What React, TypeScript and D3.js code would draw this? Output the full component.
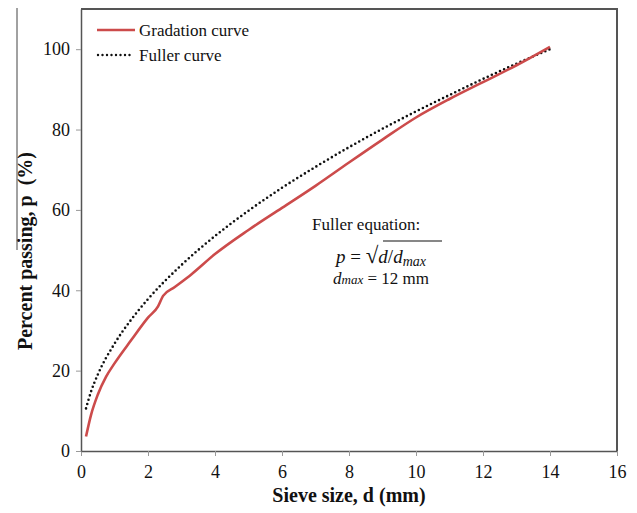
import React, { useEffect, useRef } from "react";
import * as d3 from "d3";

// sieve sizes (mm) and percent passing
const gradSizes = [0.15, 0.3, 0.5, 0.75, 1.0, 1.5, 2.0, 2.3, 2.45, 2.8, 3.3, 4, 5, 6, 7, 8, 9, 10, 11, 12, 13, 14];
const gradPassing = [3.6, 9, 14, 18.5, 21.8, 27.6, 33.2, 36, 38.6, 40.8, 44, 49, 55, 60.5, 66, 71.8, 77.5, 83, 87.6, 91.8, 96, 100.6];

const fullerSizes = [0.15, 0.3, 0.5, 1, 1.5, 2, 3, 4, 5, 6, 7, 8, 9, 10, 11, 12, 13, 14];
const fullerPassing = [10.6, 14.8, 19, 26.7, 32.7, 37.8, 46.3, 53.5, 59.8, 65.5, 70.7, 75.6, 80.2, 84.5, 88.6, 92.6, 96.4, 100];

const xTicks = [0, 2, 4, 6, 8, 10, 12, 14, 16];
const yTicks = [0, 20, 40, 60, 80, 100];

const FONT = "Liberation Serif";

const App = () => {
  const ref = useRef<SVGSVGElement | null>(null);

  useEffect(() => {
    const svg = d3.select(ref.current);
    svg.selectAll("*").remove();

    const left = 81, right = 617, top = 9, bottom = 451;
    const x = d3.scaleLinear().domain([0, 16]).range([left, right]);
    const y = d3.scaleLinear().domain([0, 110]).range([bottom, top]);
    const axisColor = "#555";

    // frame (top + right)
    svg.append("path")
      .attr("d", `M${left},${top}H${right}V${bottom}`)
      .attr("fill", "none")
      .attr("stroke", axisColor)
      .attr("stroke-width", 2);

    // x axis
    const gx = svg.append("g")
      .attr("transform", `translate(0,${bottom})`)
      .call(d3.axisBottom(x).tickValues(xTicks).tickSize(5).tickSizeOuter(0).tickPadding(9))
      .attr("font-family", FONT)
      .attr("font-size", 18);
    gx.select(".domain").attr("stroke", axisColor).attr("stroke-width", 1.5);
    gx.selectAll(".tick line").attr("stroke", "#999");
    gx.selectAll("text").attr("fill", "#111");

    // y axis
    const gy = svg.append("g")
      .attr("transform", `translate(${left},0)`)
      .call(d3.axisLeft(y).tickValues(yTicks).tickSize(5).tickSizeOuter(0).tickPadding(6))
      .attr("font-family", FONT)
      .attr("font-size", 18);
    gy.select(".domain").attr("stroke", axisColor).attr("stroke-width", 1.5);
    gy.selectAll(".tick line").attr("stroke", "#999");
    gy.selectAll("text").attr("fill", "#111");

    // axis titles
    svg.append("text")
      .attr("x", (left + right) / 2)
      .attr("y", 502)
      .attr("text-anchor", "middle")
      .attr("font-weight", "bold")
      .attr("font-size", 20)
      .attr("fill", "#111")
      .text("Sieve size, d (mm)");

    svg.append("text")
      .attr("transform", "translate(32,251) rotate(-90)")
      .attr("text-anchor", "middle")
      .attr("font-weight", "bold")
      .attr("font-size", 20)
      .attr("fill", "#111")
      .attr("xml:space", "preserve")
      .text("Percent passing, p  (%)");

    // stray line left of the y title
    svg.append("line")
      .attr("x1", 17).attr("x2", 17).attr("y1", 8).attr("y2", 250)
      .attr("stroke", "#444").attr("stroke-width", 1);

    // curves
    const grad = gradSizes.map((d, i) => [d, gradPassing[i]] as [number, number]);
    const fuller = fullerSizes.map((d, i) => [d, fullerPassing[i]] as [number, number]);
    const line = d3.line<[number, number]>()
      .x((d) => x(d[0]))
      .y((d) => y(d[1]))
      .curve(d3.curveMonotoneX);

    svg.append("path")
      .attr("d", line(fuller))
      .attr("fill", "none")
      .attr("stroke", "#111")
      .attr("stroke-width", 2.6)
      .attr("stroke-linecap", "round")
      .attr("stroke-dasharray", "0,4.5");

    svg.append("path")
      .attr("d", line(grad))
      .attr("fill", "none")
      .attr("stroke", "#cc4b4b")
      .attr("stroke-width", 2.6);

    // legend
    const lg = svg.append("g");
    lg.append("line")
      .attr("x1", 97).attr("x2", 135).attr("y1", 30).attr("y2", 30)
      .attr("stroke", "#cc4b4b").attr("stroke-width", 2.6);
    lg.append("text")
      .attr("x", 139).attr("y", 36)
      .attr("font-size", 17).attr("fill", "#111")
      .text("Gradation curve");
    lg.append("line")
      .attr("x1", 98).attr("x2", 134).attr("y1", 55).attr("y2", 55)
      .attr("stroke", "#111").attr("stroke-width", 2.4)
      .attr("stroke-linecap", "round").attr("stroke-dasharray", "0,4.5");
    lg.append("text")
      .attr("x", 139).attr("y", 61)
      .attr("font-size", 17).attr("fill", "#111")
      .text("Fuller curve");

    // equation annotation
    const eq = svg.append("g").attr("fill", "#111");
    eq.append("text")
      .attr("x", 312).attr("y", 230)
      .attr("font-size", 17)
      .text("Fuller equation:");
    const e2 = eq.append("text")
      .attr("x", 336).attr("y", 263)
      .attr("font-size", 19);
    e2.append("tspan").attr("font-style", "italic").text("p");
    e2.append("tspan").text(" = ");
    e2.append("tspan").attr("font-size", 23).text("\u221A");
    e2.append("tspan").attr("font-style", "italic").text("d");
    e2.append("tspan").text("/");
    e2.append("tspan").attr("font-style", "italic").text("d");
    e2.append("tspan").attr("font-style", "italic").attr("font-size", 14).attr("dy", 3).text("max");
    eq.append("line")
      .attr("x1", 383).attr("x2", 442).attr("y1", 241).attr("y2", 241)
      .attr("stroke", "#111").attr("stroke-width", 1.2);
    const e3 = eq.append("text")
      .attr("x", 333).attr("y", 284)
      .attr("font-size", 17);
    e3.append("tspan").attr("font-style", "italic").text("d");
    e3.append("tspan").attr("font-style", "italic").attr("font-size", 13).text("max");
    e3.append("tspan").text(" = 12 mm");

    return () => {
      d3.select(ref.current).selectAll("*").remove();
    };
  }, []);

  return (
    <svg
      ref={ref}
      width={637}
      height={513}
      fontFamily={FONT}
      style={{ position: "absolute", left: 0, top: 0, background: "#fff" }}
    />
  );
};

export default App;
